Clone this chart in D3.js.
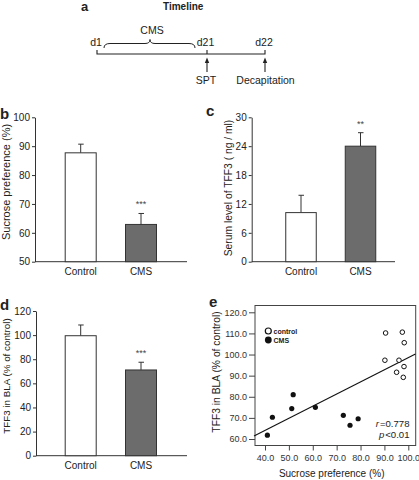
<!DOCTYPE html>
<html><head><meta charset="utf-8">
<script src="https://cdn.jsdelivr.net/npm/d3@7"></script>
<style>body{margin:0;background:#fff}svg{display:block;font-family:"Liberation Sans",Arial,sans-serif}</style>
</head><body>
<script>
// ---- data ----
const groups = ["Control", "CMS"];
const sucroseMean = [87.7, 62.9];
const sucroseErr = [3.0, 3.8];
const sucroseTicks = [50, 60, 70, 80, 90, 100];
const serumMean = [10.2, 24.0];
const serumErr = [3.6, 2.8];
const serumTicks = [0, 6, 12, 18, 24, 30];
const blaMean = [99.5, 71.1];
const blaErr = [8.9, 6.4];
const blaTicks = [0, 20, 40, 60, 80, 100, 120];
const sigLabels = [["", "***"], ["", "**"], ["", "***"]];
const controlX = [90.5, 97.5, 98.3, 90.2, 96.1, 98.2, 95.1, 97.9];
const controlY = [110.2, 110.6, 105.6, 97.3, 97.3, 94.3, 91.6, 89.2];
const cmsX = [41.0, 43.1, 51.2, 51.8, 61.1, 72.8, 75.6, 79.0];
const cmsY = [61.8, 70.3, 74.4, 81.0, 75.0, 71.2, 66.5, 69.6];
const scatterXTicks = [40, 50, 60, 70, 80, 90, 100];
const scatterYTicks = [60, 70, 80, 90, 100, 110, 120];
const fitSlope = 0.575, fitIntercept = 41.04, fitRange = [35.4, 103];
const statLines = [["r", "=0.778"], ["p", "<0.01"]];

const svg = d3.select("body").append("svg").attr("width", 419).attr("height", 480);
const ink = "#222", axisCol = "#333";

// ---- panel a: timeline ----
const a = svg.append("g");
a.append("text").attr("x", 81).attr("y", 10.5).attr("font-weight", "bold").attr("font-size", 13).attr("fill", ink).text("a");
a.append("text").attr("x", 163).attr("y", 9.5).attr("font-weight", "bold").attr("font-size", 10).attr("fill", ink).text("Timeline");
a.append("text").attr("x", 152).attr("y", 33.5).attr("text-anchor", "middle").attr("font-size", 10.5).attr("fill", ink).text("CMS");
[["d1", 96], ["d21", 205.5], ["d22", 264]].forEach(([t, x]) =>
  a.append("text").attr("x", x).attr("y", 46).attr("text-anchor", "middle").attr("font-size", 10.5).attr("fill", ink).text(t));
a.append("path").attr("d", "M97,50V54H265V50M207,50V54").attr("fill", "none").attr("stroke", ink).attr("stroke-width", 1.1);
a.append("path").attr("d", "M104,48 Q104,43.5 110,43.5 L145,43.5 Q150,43.5 150,39.5 Q150,43.5 155,43.5 L189,43.5 Q195,43.5 195,48")
  .attr("fill", "none").attr("stroke", ink).attr("stroke-width", 1);
[207, 265].forEach(x => {
  a.append("line").attr("x1", x).attr("x2", x).attr("y1", 72).attr("y2", 61).attr("stroke", ink).attr("stroke-width", 1.1);
  a.append("path").attr("d", `M${x},57.5 L${x - 2.2},63 L${x + 2.2},63Z`).attr("fill", ink);
});
a.append("text").attr("x", 206).attr("y", 83.5).attr("text-anchor", "middle").attr("font-size", 10.5).attr("fill", ink).text("SPT");
a.append("text").attr("x", 265.5).attr("y", 83.5).attr("text-anchor", "middle").attr("font-size", 10.5).attr("fill", ink).text("Decapitation");

// ---- bar panels ----
function barPanel(o) {
  const g = svg.append("g");
  const y = d3.scaleLinear().domain(o.domain).range([o.y0, o.y1]);
  const x = d3.scalePoint().domain(groups).range(o.centers);
  g.append("text").attr("x", o.lx).attr("y", o.ly).attr("font-weight", "bold").attr("font-size", 15).attr("fill", ink).text(o.letter);
  const ax = g.append("g").attr("transform", `translate(${o.axisX},0)`)
    .call(d3.axisLeft(y).tickValues(o.ticks).tickSize(3).tickSizeOuter(0).tickPadding(2));
  ax.select(".domain").attr("stroke", axisCol);
  ax.selectAll(".tick line").attr("stroke", axisCol);
  ax.selectAll("text").attr("font-size", 10).attr("fill", ink).attr("font-family", "Liberation Sans, Arial, sans-serif");
  g.append("line").attr("x1", o.axisX).attr("x2", o.xEnd).attr("y1", o.y0).attr("y2", o.y0).attr("stroke", axisCol);
  groups.forEach((c, i) => {
    const cx = x(c), top = y(o.mean[i]), et = y(o.mean[i] + o.err[i]);
    g.append("line").attr("x1", cx).attr("x2", cx).attr("y1", top).attr("y2", et).attr("stroke", "#333").attr("stroke-width", 1);
    g.append("line").attr("x1", cx - 2.5).attr("x2", cx + 3).attr("y1", et).attr("y2", et).attr("stroke", "#333").attr("stroke-width", 1);
    g.append("rect").attr("x", cx - o.bw / 2).attr("y", top).attr("width", o.bw).attr("height", o.y0 - top)
      .attr("fill", i === 0 ? "#fff" : "#6c6c6c").attr("stroke", "#333").attr("stroke-width", 1);
    g.append("text").attr("x", cx).attr("y", o.y0 + 13.5).attr("text-anchor", "middle").attr("font-size", 10).attr("fill", ink).text(c);
    if (o.sig[i]) g.append("text").attr("x", cx).attr("y", et - 6).attr("text-anchor", "middle").attr("font-size", 9).attr("fill", "#444").text(o.sig[i]);
  });
  g.append("text").attr("transform", `translate(${o.tx},${o.ty}) rotate(-90)`).attr("text-anchor", "middle")
    .attr("font-size", o.tfs).attr("fill", ink).text(o.title);
}
barPanel({letter: "b", lx: 0, ly: 119, domain: [50, 100], y0: 261.7, y1: 117.3, centers: [80.7, 141], axisX: 35, xEnd: 187, bw: 31,
  ticks: sucroseTicks, mean: sucroseMean, err: sucroseErr, sig: sigLabels[0], title: "Sucrose preference (%)", tx: 9.5, ty: 182, tfs: 11});
barPanel({letter: "c", lx: 206, ly: 116, domain: [0, 30], y0: 261.7, y1: 117.3, centers: [301, 360.5], axisX: 251.7, xEnd: 395, bw: 30.5,
  ticks: serumTicks, mean: serumMean, err: serumErr, sig: sigLabels[1], title: "Serum level of TFF3 ( ng / ml)", tx: 232, ty: 188, tfs: 10.3});
barPanel({letter: "d", lx: 0, ly: 310, domain: [0, 120], y0: 455.7, y1: 311, centers: [80.7, 141], axisX: 36, xEnd: 187, bw: 31,
  ticks: blaTicks, mean: blaMean, err: blaErr, sig: sigLabels[2], title: "TFF3 in BLA (% of control)", tx: 9.5, ty: 376, tfs: 9.8});

// ---- panel e: scatter ----
const e = svg.append("g");
const ex = d3.scaleLinear().domain([40, 100]).range([265, 408.3]);
const ey = d3.scaleLinear().domain([60, 120]).range([439, 312.3]);
const box = {l: 255, r: 415.7, t: 305.5, b: 445.5};
e.append("text").attr("x", 209).attr("y", 306.5).attr("font-weight", "bold").attr("font-size", 15).attr("fill", ink).text("e");
e.append("rect").attr("x", box.l).attr("y", box.t).attr("width", box.r - box.l).attr("height", box.b - box.t)
  .attr("fill", "none").attr("stroke", "#444").attr("stroke-width", 1);
const eyAx = e.append("g").attr("transform", `translate(${box.l},0)`)
  .call(d3.axisLeft(ey).tickValues(scatterYTicks).tickSize(6).tickPadding(2).tickFormat(d3.format(".1f")));
eyAx.select(".domain").remove();
eyAx.selectAll(".tick line").attr("stroke", "#444");
eyAx.selectAll("text").attr("font-size", 9).attr("fill", "#333").attr("font-family", "Liberation Sans, Arial, sans-serif");
const exAx = e.append("g").attr("transform", `translate(0,${box.b})`)
  .call(d3.axisBottom(ex).tickValues(scatterXTicks).tickSize(5).tickPadding(4).tickFormat(d3.format(".1f")));
exAx.select(".domain").remove();
exAx.selectAll(".tick line").attr("stroke", "#444");
exAx.selectAll("text").attr("font-size", 9).attr("fill", "#333").attr("font-family", "Liberation Sans, Arial, sans-serif");
e.append("text").attr("x", 331.7).attr("y", 476.5).attr("text-anchor", "middle").attr("font-size", 10).attr("fill", ink).text("Sucrose preference (%)");
e.append("text").attr("transform", "translate(219.5,372) rotate(-90)").attr("text-anchor", "middle").attr("font-size", 10.3).attr("fill", ink).text("TFF3 in BLA (% of control)");
e.append("line").attr("x1", ex(fitRange[0])).attr("y1", ey(fitIntercept + fitSlope * fitRange[0]))
  .attr("x2", ex(fitRange[1])).attr("y2", ey(fitIntercept + fitSlope * fitRange[1])).attr("stroke", "#111").attr("stroke-width", 1.1);
e.selectAll(".ctl").data(controlX.map((v, i) => [v, controlY[i]])).join("circle")
  .attr("cx", d => ex(d[0])).attr("cy", d => ey(d[1])).attr("r", 2.3).attr("fill", "#fff").attr("stroke", "#111").attr("stroke-width", 1);
e.selectAll(".cms").data(cmsX.map((v, i) => [v, cmsY[i]])).join("circle")
  .attr("cx", d => ex(d[0])).attr("cy", d => ey(d[1])).attr("r", 2.6).attr("fill", "#111");
e.append("circle").attr("cx", 268.3).attr("cy", 331).attr("r", 3).attr("fill", "#fff").attr("stroke", "#111").attr("stroke-width", 1.2);
e.append("circle").attr("cx", 268.3).attr("cy", 340).attr("r", 3.4).attr("fill", "#111");
e.append("text").attr("x", 273.5).attr("y", 333.5).attr("font-size", 7).attr("font-weight", "bold").attr("fill", ink).text("control");
e.append("text").attr("x", 273.5).attr("y", 342.5).attr("font-size", 7).attr("font-weight", "bold").attr("fill", ink).text("CMS");
statLines.forEach(([sym, rest], i) => {
  const yb = 426.5 + i * 11;
  const t2 = e.append("text").attr("x", 409.5).attr("y", yb).attr("text-anchor", "end").attr("font-size", 9.6).attr("fill", ink).text(rest);
  const w = t2.node().getComputedTextLength();
  e.append("text").attr("x", 409.5 - w - 1).attr("y", yb).attr("text-anchor", "end").attr("font-size", 9.6)
    .attr("font-style", "italic").attr("fill", ink).text(sym);
});
</script>
</body></html>
